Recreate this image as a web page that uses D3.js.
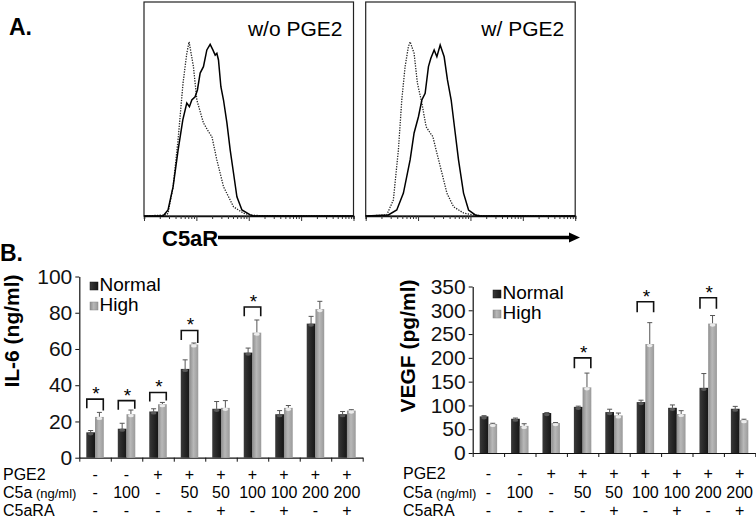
<!DOCTYPE html>
<html><head><meta charset="utf-8">
<script src="https://cdn.jsdelivr.net/npm/d3@7"></script>
<style>
html,body{margin:0;padding:0;background:#fff;}
svg{display:block;font-family:"Liberation Sans",Arial,sans-serif;}
</style></head>
<body>
<svg id="fig" width="756" height="520"></svg>
<script>
// ---------- DATA ----------
// Panel A histograms: [log10 intensity, % of max]
const isoWithout = [[0,0],[0.43,0.5],[0.46,1.4],[0.555,13.6],[0.65,35.5],[0.745,62],[0.817,76],[0.861,81.4],[0.944,69.8],[1.009,54.2],[1.135,43.5],[1.231,39.4],[1.296,37.1],[1.391,26.2],[1.518,13.7],[1.709,4.3],[1.9,1.3],[2.03,0.5],[2.3,0],[4,0]];
const c5arWithout = [[0,0],[0.364,0],[0.459,2.8],[0.555,13.6],[0.651,30.8],[0.741,44.9],[0.817,52.8],[0.867,51.1],[0.913,54.2],[0.976,55.7],[1.02,58.9],[1.072,66.8],[1.135,69.8],[1.2,77.6],[1.263,80.2],[1.315,77.6],[1.359,75.2],[1.391,76],[1.422,72.9],[1.468,60.4],[1.518,54.2],[1.583,43.5],[1.646,30.8],[1.709,20.1],[1.774,9],[1.87,2.8],[2.029,0.5],[2.086,0],[4,0]];
const isoWith = [[0,0],[0.402,0.5],[0.528,7.5],[0.624,30.8],[0.689,54.2],[0.752,69.8],[0.815,79.1],[0.848,81.4],[0.924,76],[0.988,62],[1.072,52.8],[1.154,41.7],[1.231,38.8],[1.282,37.1],[1.359,29.4],[1.455,20.1],[1.55,10.7],[1.677,4.3],[1.868,1.4],[2.059,0.5],[2.3,0],[4,0]];
const c5arWith = [[0,0],[0.433,0.5],[0.593,2.8],[0.72,10.7],[0.848,26.2],[0.924,38.8],[1.007,46.4],[1.072,54.2],[1.135,57.3],[1.198,69.8],[1.244,73.7],[1.307,77.6],[1.359,74.4],[1.422,79.9],[1.498,74.4],[1.561,63.6],[1.632,54.2],[1.709,38.8],[1.772,26.2],[1.868,10.7],[1.964,2.8],[2.092,0.5],[2.188,0],[4,0]];
const histTitles = ["w/o PGE2", "w/ PGE2"];

// Panel B
const groups = ["g1","g2","g3","g4","g5","g6","g7","g8","g9"];
const series = ["Normal","High"];
const pge2Labels  = ["-","-","+","+","+","+","+","+","+"];
const c5aLabels   = ["-","100","-","50","50","100","100","200","200"];
const c5araLabels = ["-","-","-","-","+","-","+","-","+"];

const il6Normal    = [14, 16, 25.5, 49, 27, 58, 24, 74, 24];
const il6NormalErr = [1, 3, 1.5, 5, 4, 2.5, 2, 4, 1.5];
const il6High      = [22.5, 24, 29.5, 62.5, 27.5, 69, 27.5, 82, 26];
const il6HighErr   = [2.5, 2.3, 1, 0.8, 4, 7, 1.3, 4.3, 0.5];
const il6Ticks     = [0, 20, 40, 60, 80, 100];
const il6BracketGroups = [0, 1, 2, 3, 5];
const il6BracketTop    = [32.3, 31.5, 36, 70.2, 83.2];
const il6BracketLeft   = [27.3, 26.5, 31, 65, 78];
const il6BracketRight  = [26, 27, 31.5, 63.3, 78];

const vegfNormal    = [77, 72, 84, 97, 86, 107, 95, 137, 93];
const vegfNormalErr = [1.5, 1.5, 1, 1.5, 6, 4, 6, 30, 5];
const vegfHigh      = [61, 57, 63, 138, 79, 229, 82, 272, 69];
const vegfHighErr   = [1.5, 4.5, 1, 30, 5, 45, 7, 17, 2];
const vegfTicks     = [0, 50, 100, 150, 200, 250, 300, 350];
const vegfBracketGroups = [3, 5, 7];
const vegfBracketTop    = [200, 318, 326.5];
const vegfBracketLeft   = [178, 296, 303];
const vegfBracketRight  = [178, 296, 303];

// ---------- DRAW ----------
const svg = d3.select("#fig");
const FONT = '"Liberation Sans",Arial,sans-serif';

const defs = svg.append("defs");
function grad(id, stops){
  const g = defs.append("linearGradient").attr("id", id).attr("x1","0%").attr("x2","100%").attr("y1","0%").attr("y2","0%");
  stops.forEach(([o,c]) => g.append("stop").attr("offset", o).attr("stop-color", c));
}
grad("gDark", [["0%","#3a3a3a"],["30%","#2e2e2e"],["100%","#161616"]]);
grad("gLight", [["0%","#8e8e8e"],["45%","#b8b8b8"],["100%","#9a9a9a"]]);

// ----- Panel A -----
svg.append("text").attr("x", 9).attr("y", 35).attr("font-size", 23).attr("font-weight", "bold").text("A.");

const histBoxes = [{left:144, data:[isoWithout, c5arWithout]}, {left:365.7, data:[isoWith, c5arWith]}];
const boxW = 209.5, boxTop = 2, boxBottom = 216;
const hy = d3.scaleLinear().domain([0, 100]).range([boxBottom, boxTop]);

histBoxes.forEach((b, i) => {
  const hx = d3.scaleLog().domain([1, 1e4]).range([b.left, b.left + boxW]);
  const g = svg.append("g");
  g.append("rect").attr("x", b.left).attr("y", boxTop).attr("width", boxW).attr("height", boxBottom - boxTop)
    .attr("fill", "none").attr("stroke", "#222").attr("stroke-width", 1.2);
  const ticks = hx.ticks();
  const ax = d3.axisBottom(hx).tickValues(ticks).tickFormat("").tickSizeOuter(0).tickSize(3);
  const axg = g.append("g").attr("transform", `translate(0,${boxBottom})`).call(ax);
  axg.select(".domain").attr("stroke", "#111").attr("stroke-width", 1.5);
  axg.selectAll(".tick line").attr("stroke", "#333")
    .attr("y2", d => Math.abs(Math.log10(d) - Math.round(Math.log10(d))) < 1e-9 ? 5 : 3);
  const line = d3.line().x(d => hx(Math.pow(10, d[0]))).y(d => hy(d[1])).curve(d3.curveLinear);
  g.append("path").datum(b.data[0]).attr("d", line).attr("fill", "none").attr("stroke", "#222")
    .attr("stroke-width", 1.3).attr("stroke-dasharray", "1.3,1.3");
  g.append("path").datum(b.data[1]).attr("d", line).attr("fill", "none").attr("stroke", "#000")
    .attr("stroke-width", 1.5);
  g.append("text").attr("x", b.left + boxW - 11).attr("y", 36).attr("text-anchor", "end")
    .attr("font-size", 21).text(histTitles[i]);
});

svg.append("text").attr("x", 162).attr("y", 246).attr("font-size", 22).attr("font-weight", "bold").text("C5aR");
svg.append("line").attr("x1", 218).attr("x2", 572).attr("y1", 237.5).attr("y2", 237.5)
  .attr("stroke", "#000").attr("stroke-width", 3.5);
svg.append("path").attr("d", "M569,232.5 L580,237.5 L569,242.5 Z").attr("fill", "#000");

// ----- Panel B -----
svg.append("text").attr("x", 0).attr("y", 261).attr("font-size", 23).attr("font-weight", "bold").text("B.");

function barChart(cfg){
  const g = svg.append("g");
  const xLin = d3.scaleLinear().domain([0, groups.length]).range(cfg.xRange);
  const x0 = d3.scaleBand().domain(groups).range(cfg.xRange).paddingInner(0).paddingOuter(0);
  const x1 = d3.scaleBand().domain(series).range([0, x0.bandwidth()]).paddingInner(0).paddingOuter(0.8);
  const y = d3.scaleLinear().domain(cfg.yDomain).range(cfg.yRange);

  // y axis
  const ya = g.append("g").attr("transform", `translate(${cfg.xRange[0]},0)`)
    .call(d3.axisLeft(y).tickValues(cfg.ticks).tickSize(4).tickSizeOuter(0).tickPadding(3));
  ya.select(".domain").attr("stroke", "#111").attr("stroke-width", 1.2);
  ya.selectAll(".tick line").attr("stroke", "#111");
  ya.selectAll(".tick text").attr("font-family", FONT).attr("font-size", cfg.tickFont).attr("fill", "#111");

  // x axis (group separators)
  const xa = g.append("g").attr("transform", `translate(0,${cfg.yRange[0]})`)
    .call(d3.axisBottom(xLin).tickValues(d3.range(groups.length + 1)).tickFormat("").tickSize(4).tickSizeOuter(0));
  xa.select(".domain").attr("stroke", "#111").attr("stroke-width", 1.2);
  xa.selectAll(".tick line").attr("stroke", "#111");

  // y label
  g.append("text").attr("transform", `translate(${cfg.ylabX},${cfg.ylabY}) rotate(-90)`)
    .attr("text-anchor", "middle").attr("font-size", 21).attr("font-weight", "bold").text(cfg.ylabel);

  const vals = {Normal: cfg.normal, High: cfg.high};
  const errs = {Normal: cfg.normalErr, High: cfg.highErr};
  const fills = {Normal: "url(#gDark)", High: "url(#gLight)"};
  const caps = {Normal: "#5a5a5a", High: "#ececec"};

  series.forEach(s => {
    const gs = g.append("g");
    groups.forEach((gr, i) => {
      const bx = x0(gr) + x1(s), bw = x1.bandwidth();
      const top = y(vals[s][i]);
      const et = y(vals[s][i] + errs[s][i]);
      gs.append("line").attr("x1", bx + bw/2).attr("x2", bx + bw/2).attr("y1", top).attr("y2", et)
        .attr("stroke", "#555").attr("stroke-width", 1);
      gs.append("line").attr("x1", bx + bw/2 - 2.5).attr("x2", bx + bw/2 + 2.5).attr("y1", et).attr("y2", et)
        .attr("stroke", "#555").attr("stroke-width", 1);
      gs.append("rect").attr("x", bx).attr("y", top).attr("width", bw).attr("height", y(0) - top).attr("fill", fills[s]);
      gs.append("ellipse").attr("cx", bx + bw/2).attr("cy", top + 1.5).attr("rx", bw/2 - 1.5).attr("ry", 1.6).attr("fill", caps[s]);
    });
  });

  // brackets & stars
  cfg.bGroups.forEach((gi, k) => {
    const gr = groups[gi];
    const xl = x0(gr) + x1("Normal") + 0.5, xr = x0(gr) + x1("High") + x1.bandwidth() - 0.5;
    const yt = y(cfg.bTop[k]);
    g.append("path").attr("d", `M${xl},${y(cfg.bLeft[k])} L${xl},${yt} L${xr},${yt} L${xr},${y(cfg.bRight[k])}`)
      .attr("fill", "none").attr("stroke", "#111").attr("stroke-width", 1.6);
    g.append("text").attr("x", (xl + xr)/2 + 1).attr("y", yt + 1).attr("text-anchor", "middle")
      .attr("font-size", 19).text("*");
  });

  // legend
  series.forEach((s, k) => {
    const ly = cfg.legY + k * 20;
    g.append("rect").attr("x", cfg.legX).attr("y", ly - 9).attr("width", 8).attr("height", 8).attr("fill", fills[s])
      .attr("stroke", s === "High" ? "#888" : "#111").attr("stroke-width", 0.5);
    g.append("text").attr("x", cfg.legX + 9.5).attr("y", ly).attr("font-size", cfg.legFont).text(s);
  });

  // condition rows
  const rows = [["PGE2", pge2Labels, cfg.rowY[0]], ["C5a", c5aLabels, cfg.rowY[1]], ["C5aRA", c5araLabels, cfg.rowY[2]]];
  rows.forEach(([name, labels, ry]) => {
    const t = g.append("text").attr("x", cfg.rowX).attr("y", ry).attr("font-size", 16).text(name);
    if (name === "C5a") t.append("tspan").attr("font-size", 13).text(" (ng/ml)");
    groups.forEach((gr, i) => {
      g.append("text").attr("x", x0(gr) + x0.bandwidth()/2).attr("y", ry).attr("text-anchor", "middle")
        .attr("font-size", 16).text(labels[i]);
    });
  });
}

barChart({
  xRange: [79.3, 362.7], yDomain: [0, 100], yRange: [457.7, 276.5], ticks: il6Ticks, tickFont: 21,
  ylabel: "IL-6 (ng/ml)", ylabX: 19, ylabY: 331,
  normal: il6Normal, normalErr: il6NormalErr, high: il6High, highErr: il6HighErr,
  bGroups: il6BracketGroups, bTop: il6BracketTop, bLeft: il6BracketLeft, bRight: il6BracketRight,
  legX: 90, legY: 291, legFont: 19, rowX: 3, rowY: [480, 498, 516]
});

barChart({
  xRange: [472.7, 755.3], yDomain: [0, 350], yRange: [453, 286.5], ticks: vegfTicks, tickFont: 21,
  ylabel: "VEGF (pg/ml)", ylabX: 415, ylabY: 346,
  normal: vegfNormal, normalErr: vegfNormalErr, high: vegfHigh, highErr: vegfHighErr,
  bGroups: vegfBracketGroups, bTop: vegfBracketTop, bLeft: vegfBracketLeft, bRight: vegfBracketRight,
  legX: 493, legY: 299, legFont: 19, rowX: 403, rowY: [479, 497.5, 516]
});
</script>
</body></html>
